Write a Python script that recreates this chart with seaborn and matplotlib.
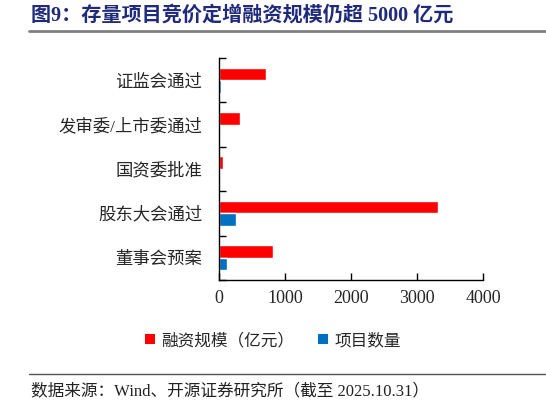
import numpy as np
import pandas as pd
import seaborn as sns
import matplotlib.pyplot as plt
from matplotlib.lines import Line2D
from matplotlib.patches import Patch

# data
categories = ['证监会通过', '发审委/上市委通过', '国资委批准', '股东大会通过', '董事会预案']
amount = [706, 318, 61, 3323, 818]      # 融资规模（亿元）
count = [28, 12, 0, 252, 121]           # 项目数量
series = ['融资规模（亿元）', '项目数量']
colors = ['#FF0000', '#0070C0']
xticks = [0, 1000, 2000, 3000, 4000]

df = pd.DataFrame({
    'cat': categories * 2,
    'val': amount + count,
    'series': [series[0]] * len(categories) + [series[1]] * len(categories),
})

sns.set_style('ticks')
plt.rcParams['font.family'] = ['Liberation Serif', 'Noto Sans CJK SC']
plt.rcParams['axes.unicode_minus'] = False

fig = plt.figure(figsize=(5.46, 4.05), dpi=100)
ax = fig.add_axes([219 / 546, 1 - 280 / 405, 264 / 546, 222 / 405])

sns.barplot(data=df, y='cat', x='val', hue='series', hue_order=series,
            palette=colors, orient='h', width=0.57, order=categories,
            legend=False, ax=ax, saturation=1)

ax.set_xlim(0, 4000)
ax.set_ylim(len(categories) - 0.5, -0.5)
ax.set_xticks(xticks)
ax.set_xticklabels([str(t) for t in xticks], fontsize=13)
ax.tick_params(axis='x', direction='in', length=5, width=1, pad=7, color='black')
ax.set_yticks(range(len(categories)))
ax.set_yticklabels(categories, fontsize=12.5)
ax.tick_params(axis='y', which='major', length=0, pad=12)
ax.set_yticks(np.arange(-0.5, len(categories), 1), minor=True)
ax.tick_params(axis='y', which='minor', direction='in', length=5, width=1, color='black')
ax.set_xlabel('')
ax.set_ylabel('')
for s in ['top', 'right']:
    ax.spines[s].set_visible(False)
for s in ['left', 'bottom']:
    ax.spines[s].set_color('black')
    ax.spines[s].set_linewidth(1)

# legend
handles = [Patch(facecolor=c, edgecolor='none') for c in colors]
fig.legend(handles, series, loc='center', bbox_to_anchor=(273 / 546, 1 - 341 / 405),
           ncol=2, frameon=False, fontsize=12, handlelength=0.6, handleheight=0.6,
           handletextpad=0.4, columnspacing=1.4)

# title and footer
fig.text(31 / 546, 1 - 16 / 405, '图9：存量项目竞价定增融资规模仍超 5000 亿元',
         fontsize=14.5, fontweight='bold', color='#1F2A7A', va='center', ha='left')
fig.add_artist(Line2D([29 / 546, 1], [1 - 31 / 405] * 2, color='#808080', lw=2))
fig.add_artist(Line2D([29 / 546, 1], [1 - 374 / 405] * 2, color='#555555', lw=1))
fig.text(31 / 546, 1 - 391 / 405, '数据来源：Wind、开源证券研究所（截至 2025.10.31）',
         fontsize=12, color='#222222', va='center', ha='left')

fig.savefig('out.png', dpi=100)
